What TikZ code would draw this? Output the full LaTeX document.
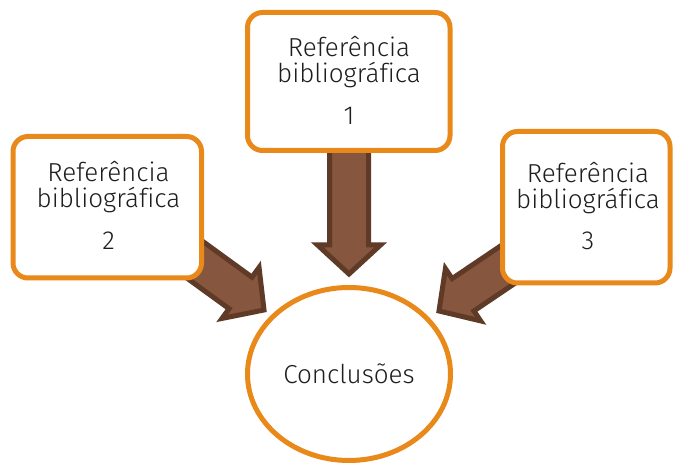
\documentclass[tikz,border=0pt]{standalone}
\usepackage{fontspec}
\setmainfont{Fira Sans}[UprightFont={* Light}, Ligatures=NoCommon]
\usetikzlibrary{shapes.geometric}
\definecolor{boxorange}{HTML}{E8891A}
\definecolor{arrowfill}{HTML}{87563E}
\definecolor{arrowline}{HTML}{5F3B27}
\definecolor{txt}{HTML}{1E1E1E}
\tikzset{
  refbox/.style={draw=boxorange, line width=5pt, fill=white, rounded corners=15pt, inner sep=0pt},
  concl/.style={draw=boxorange, line width=5pt, fill=white, ellipse, inner sep=0pt, minimum width=203pt, minimum height=173pt, font=\fontsize{26}{26}\selectfont, text=txt},
  lbl/.style={anchor=base, inner sep=0pt, font=\fontsize{26}{26}\selectfont, text=txt},
  blockarrow/.style={draw=arrowline, fill=arrowfill, line width=5pt, line join=miter}
}
\newcommand\blockarr[4]{%
  \begin{scope}[shift={(#1,#2)}, rotate=#3]
    \draw[blockarrow] (0,0) -- (-29,31.5) -- (-29,19.5) -- (-#4,19.5) -- (-#4,-19.5) -- (-29,-19.5) -- (-29,-31.5) -- cycle;
  \end{scope}}
\begin{document}
\begin{tikzpicture}[x=1pt,y=1pt]
  \useasboundingbox[fill=white] (0,0) rectangle (673,465);
  % block arrows
  \blockarr{349}{191}{-90}{140}
  \blockarr{264}{155}{-36}{120}
  \blockarr{439}{154}{214}{120}
  % boxes
  \node[refbox, minimum width=202.5pt, minimum height=138pt] (b1) at (348.75,383.5) {};
  \node[refbox, minimum width=188.5pt, minimum height=141.5pt] (b2) at (107.25,257.75) {};
  \node[refbox, minimum width=167.5pt, minimum height=151.5pt] (b3) at (586.25,257.75) {};
  \node[concl] (c) at (349,91) {Conclusões};
  % texts
  \node[lbl] (b1a) at (349,408) {Referência};
  \node[lbl] (b1b) at (349,382) {bibliográfica};
  \node[lbl] (b1c) at (349,340) {1};
  \node[lbl] (b2a) at (108.5,283.3) {Referência};
  \node[lbl] (b2b) at (108.5,257) {bibliográfica};
  \node[lbl] (b2c) at (108.5,215) {2};
  \node[lbl] (b3a) at (588,282) {Referência};
  \node[lbl] (b3b) at (588,256) {bibliográfica};
  \node[lbl] (b3c) at (588,215) {3};
\end{tikzpicture}
\end{document}
